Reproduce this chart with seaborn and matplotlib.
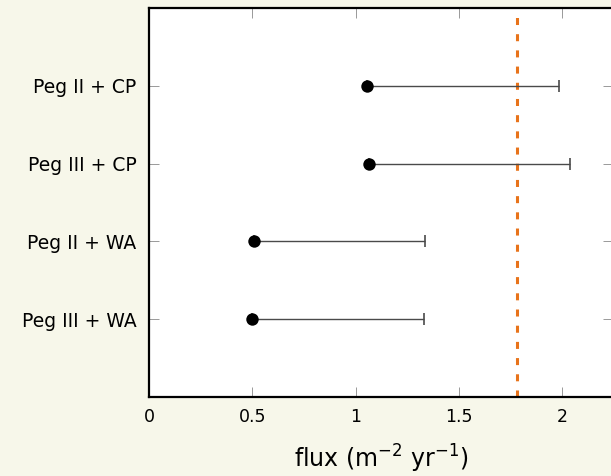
import matplotlib
matplotlib.use("Agg")
import matplotlib.pyplot as plt
import seaborn as sns
import pandas as pd
from matplotlib.ticker import FixedLocator, FixedFormatter

# Measured fluxes with one-sided upper uncertainty
combos = ["Peg II + CP", "Peg III + CP", "Peg II + WA", "Peg III + WA"]
flux = [1.053, 1.063, 0.507, 0.498]
flux_upper = [1.984, 2.037, 1.335, 1.330]
reference_flux = 1.779

x_ticks = [0, 0.5, 1, 1.5, 2]
x_tick_labels = ["0", "0.5", "1", "1.5", "2"]

sns.set_theme(style="white")
plt.rcParams["font.family"] = ["DejaVu Sans"]
plt.rcParams["mathtext.fontset"] = "dejavusans"

bg = "#F7F7EA"
fig = plt.figure(figsize=(6.11, 4.76), dpi=100, facecolor=bg)
ax = fig.add_axes([149 / 611, 79 / 476, (613 - 149) / 611, (397 - 8) / 476])
ax.set_facecolor("white")

# categories sit at y = 4, 3, 2, 1 (top to bottom)
ypos = [len(combos) - i for i in range(len(combos))]
df = pd.DataFrame({"combo": combos, "flux": flux, "upper": flux_upper, "y": ypos})

err_hi = [u - f for u, f in zip(flux_upper, flux)]
ax.errorbar(df["flux"], df["y"], xerr=[[0] * len(df), err_hi], fmt="none",
            ecolor="#4a4a4a", elinewidth=1.0, capsize=4, capthick=1.2, zorder=2)

ax.axvline(reference_flux, color="#E8731A", lw=2.2, linestyle=(0, (2.3, 3.0)), zorder=1)

sns.scatterplot(data=df, x="flux", y="y", color="black", s=80, edgecolor="black",
                linewidth=0, zorder=3, ax=ax, legend=False)

ax.set_xlim(0, 2.245)
ax.set_ylim(0, len(combos) + 1)
ax.xaxis.set_major_locator(FixedLocator(x_ticks))
ax.xaxis.set_major_formatter(FixedFormatter(x_tick_labels))
ax.set_yticks(ypos)
ax.set_yticklabels(combos)

ax.tick_params(axis="both", which="major", direction="in", length=7, width=0.7,
               color="#999999", labelcolor="black",
               top=True, right=True, bottom=True, left=True)
ax.tick_params(axis="y", labelsize=13.5, pad=9)
ax.tick_params(axis="x", labelsize=12.5, pad=8)

for side in ["left", "bottom", "top", "right"]:
    ax.spines[side].set_visible(True)
    ax.spines[side].set_color("black")
    ax.spines[side].set_linewidth(1.6)

ax.set_xlabel(r"flux (m$^{-2}$ yr$^{-1}$)", fontsize=17, color="black", labelpad=12)
ax.set_ylabel("")

fig.savefig("out.png", dpi=100, facecolor=bg)
